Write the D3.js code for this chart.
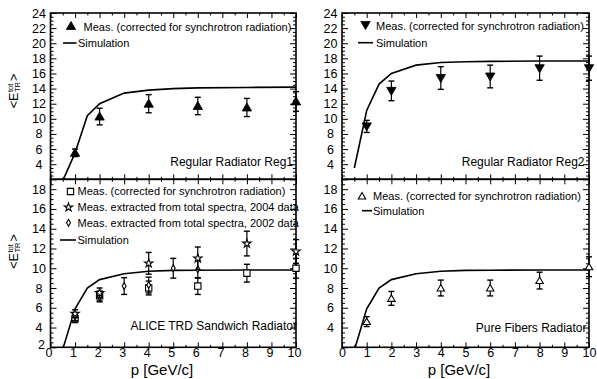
<!DOCTYPE html>
<html>
<head>
<meta charset="utf-8">
<script src="https://cdn.jsdelivr.net/npm/d3@7"></script>
<style>
  body { margin: 0; background: #fff; }
  text { font-family: "Liberation Sans", Arial, Helvetica, sans-serif; fill: #000; }
</style>
</head>
<body>
<svg id="chart"></svg>
<script>
// measured points (p in GeV/c)
const pMeas = [1, 2, 4, 6, 8, 10];
const reg1Meas = [5.5, 10.3, 12.0, 11.7, 11.5, 12.3];
const reg1Err = [0.5, 1.1, 1.2, 1.15, 1.2, 1.3];
const reg2Meas = [9.0, 13.7, 15.4, 15.6, 16.7, 16.7];
const reg2Err = [0.8, 1.3, 1.5, 1.5, 1.6, 1.6];
const sandCorr = [4.9, 7.2, 8.0, 8.2, 9.5, 10.0];
const sandCorrErr = [0.4, 0.5, 0.7, 0.85, 0.9, 1.0];
const sand2004 = [5.4, 7.5, 10.5, 11.0, 12.5, 11.7];
const sand2004Err = [0.4, 0.5, 1.1, 1.15, 1.25, 1.2];
const p2002 = [1, 2, 3, 4, 5, 6];
const sand2002 = [5.1, 7.1, 8.2, 8.3, 10.0, 9.9];
const sand2002Err = [0.4, 0.5, 0.85, 0.8, 1.0, 0.9];
const fibMeas = [4.6, 6.95, 8.0, 8.0, 8.75, 10.15];
const fibErr = [0.5, 0.7, 0.8, 0.8, 0.85, 1.0];

// simulation curves
const pSim = [0.5, 1, 1.5, 2, 3, 4, 5, 6, 8, 10];
const reg1Sim = [1.8, 5.5, 10.4, 12.0, 13.4, 13.8, 14.0, 14.1, 14.15, 14.2];
const reg2Sim = [3.5, 11.1, 14.6, 16.0, 17.1, 17.45, 17.55, 17.6, 17.65, 17.65];
const sandSim = [1.8, 5.9, 8.0, 8.85, 9.45, 9.7, 9.78, 9.8, 9.82, 9.82];
const fibSim = [1.7, 5.9, 8.0, 8.85, 9.45, 9.7, 9.78, 9.8, 9.82, 9.82];

// ticks
const xTicks = d3.range(0, 11, 1);
const xMinor = d3.range(0.5, 10, 1);
const topYTicks = d3.range(4, 25, 2);
const bottomYTicks = d3.range(4, 19, 2);

const measText = 'Meas. (corrected for synchrotron radiation)';

let width = 597;
let height = 379;

let svg = d3.select('#chart')
  .attr('width', width)
  .attr('height', height);

function series(ps, vs, es, marker) {
  return ps.map((p, i) => ({p: p, v: vs[i], e: es[i], marker: marker}));
}

let panels = [
  {
    x0: 50.5, x1: 296, y0: 13, y1: 179.3, yMax: 24, yTicks: topYTicks, xLabels: false,
    sim: reg1Sim,
    data: [series(pMeas, reg1Meas, reg1Err, 'triUp')],
    legend: [
      {marker: 'triUp', mx: 71, my: 26, text: measText, tx: 83.5, ty: 30.5},
      {marker: 'line', lx0: 63, lx1: 76.5, my: 43, text: 'Simulation', tx: 78, ty: 46.8}
    ],
    label: 'Regular Radiator Reg1', lx: 293, ly: 165.5
  },
  {
    x0: 342, x1: 589, y0: 13, y1: 179.3, yMax: 24, yTicks: topYTicks, xLabels: false,
    sim: reg2Sim,
    data: [series(pMeas, reg2Meas, reg2Err, 'triDown')],
    legend: [
      {marker: 'triDown', mx: 365.5, my: 25, text: measText, tx: 376, ty: 30},
      {marker: 'line', lx0: 358, lx1: 373, my: 42.7, text: 'Simulation', tx: 376, ty: 46.5}
    ],
    label: 'Regular Radiator Reg2', lx: 584.5, ly: 165.5
  },
  {
    x0: 50.5, x1: 296, y0: 179.3, y1: 347.3, yMax: 19, yTicks: bottomYTicks, xLabels: true, twoLabel: true,
    sim: sandSim,
    data: [
      series(pMeas, sandCorr, sandCorrErr, 'square'),
      series(p2002, sand2002, sand2002Err, 'diamond'),
      series(pMeas, sand2004, sand2004Err, 'star')
    ],
    legend: [
      {marker: 'square', mx: 70.5, my: 191.5, text: measText, tx: 77.5, ty: 195.3},
      {marker: 'star', mx: 68.5, my: 207.3, text: 'Meas. extracted from total spectra, 2004 data', tx: 77.5, ty: 211},
      {marker: 'diamond', mx: 68.5, my: 222.7, text: 'Meas. extracted from total spectra, 2002 data', tx: 77.5, ty: 226.5},
      {marker: 'line', lx0: 60, lx1: 76, my: 240, text: 'Simulation', tx: 77.5, ty: 244}
    ],
    label: 'ALICE TRD Sandwich Radiator', lx: 297, ly: 330
  },
  {
    x0: 342, x1: 589, y0: 179.3, y1: 347.3, yMax: 19, yTicks: bottomYTicks, xLabels: true,
    sim: fibSim,
    data: [series(pMeas, fibMeas, fibErr, 'triOpen')],
    legend: [
      {marker: 'triOpen', mx: 362, my: 196, text: measText, tx: 373, ty: 200},
      {marker: 'line', lx0: 362, lx1: 372, my: 210.7, text: 'Simulation', tx: 373, ty: 214.5}
    ],
    label: 'Pure Fibers Radiator', lx: 586.5, ly: 332
  }
];

// symbol paths
function markerPath(type) {
  if (type == 'triUp' || type == 'triDown') {
    return d3.symbol().type(d3.symbolTriangle).size(38)();
  } else if (type == 'triOpen') {
    return d3.symbol().type(d3.symbolTriangle).size(24)();
  } else if (type == 'square') {
    return d3.symbol().type(d3.symbolSquare).size(40)();
  } else if (type == 'star') {
    return d3.symbol().type(d3.symbolStar).size(22)();
  } else {
    return d3.symbol().type(d3.symbolDiamond).size(13)();
  }
}

function drawMarker(g, type, x, y) {
  let filled = (type == 'triUp' || type == 'triDown');
  let rot = type == 'triDown' ? ' rotate(180)' : '';
  let dy = (type == 'triUp' || type == 'triOpen') ? 0.8 : (type == 'triDown' ? -0.8 : 0);
  g.append('path')
    .attr('d', markerPath(type))
    .attr('transform', `translate(${x},${y + dy})${rot}`)
    .attr('fill', filled ? '#000' : '#fff')
    .attr('stroke', '#000')
    .attr('stroke-width', filled ? 0.8 : 1.1);
}

panels.forEach((pn, idx) => {
  let x = d3.scaleLinear().domain([0, 10]).range([pn.x0, pn.x1]);
  let y = d3.scaleLinear().domain([2, pn.yMax]).range([pn.y1, pn.y0]);

  let g = svg.append('g');

  svg.append('clipPath')
    .attr('id', 'clip' + idx)
    .append('rect')
    .attr('x', pn.x0).attr('y', pn.y0)
    .attr('width', pn.x1 - pn.x0).attr('height', pn.y1 - pn.y0);

  // ticks on all four sides, pointing inward
  let yMinor = d3.range(2.5, pn.yMax, 0.5).filter((v) => v % 2 != 0);
  let yMajor = d3.range(2, pn.yMax + 0.01, 2);

  let axes = [
    {ax: d3.axisBottom(x).tickValues(xTicks).tickSize(-5), t: `translate(0,${pn.y1})`, labels: pn.xLabels},
    {ax: d3.axisBottom(x).tickValues(xMinor).tickSize(-2.5), t: `translate(0,${pn.y1})`},
    {ax: d3.axisTop(x).tickValues(xTicks).tickSize(-5), t: `translate(0,${pn.y0})`},
    {ax: d3.axisTop(x).tickValues(xMinor).tickSize(-2.5), t: `translate(0,${pn.y0})`},
    {ax: d3.axisLeft(y).tickValues(yMajor).tickSize(-6), t: `translate(${pn.x0},0)`, ylabels: true},
    {ax: d3.axisLeft(y).tickValues(yMinor).tickSize(-3), t: `translate(${pn.x0},0)`},
    {ax: d3.axisRight(y).tickValues(yMajor).tickSize(-6), t: `translate(${pn.x1},0)`},
    {ax: d3.axisRight(y).tickValues(yMinor).tickSize(-3), t: `translate(${pn.x1},0)`}
  ];

  axes.forEach((a) => {
    let ag = g.append('g')
      .attr('transform', a.t)
      .call(a.ax.tickPadding(1));
    ag.select('.domain').remove();
    ag.selectAll('line').attr('stroke', '#000').attr('stroke-width', 1);
    ag.selectAll('text')
      .attr('font-size', 12.5)
      .attr('font-family', '"Liberation Sans", Arial, sans-serif')
      .attr('fill', '#000');
    if (a.ylabels) {
      ag.selectAll('text')
        .attr('text-anchor', 'middle')
        .attr('x', -11.5)
        .text((d) => {
          if (d == 2) return pn.twoLabel ? '2' : '';
          return pn.yTicks.indexOf(d) >= 0 ? d : '';
        })
        .filter((d) => d == 2)
        .attr('x', -9)
        .attr('y', -3);
    } else if (a.labels) {
      if (idx == 2) ag.selectAll('text').attr('dx', -2);
    } else {
      ag.selectAll('text').remove();
    }
  });

  // frame
  g.append('rect')
    .attr('x', pn.x0).attr('y', pn.y0)
    .attr('width', pn.x1 - pn.x0).attr('height', pn.y1 - pn.y0)
    .attr('fill', 'none')
    .attr('stroke', '#000')
    .attr('stroke-width', 1.6);

  // simulation line, clipped to the frame
  let line = d3.line()
    .x((d, i) => x(pSim[i]))
    .y((d) => y(d));

  g.append('path')
    .datum(pn.sim)
    .attr('clip-path', `url(#clip${idx})`)
    .attr('d', line)
    .attr('fill', 'none')
    .attr('stroke', '#000')
    .attr('stroke-width', 1.6);

  // error bars and markers (not clipped, points at p=10 sit on the frame)
  let plot = g.append('g');
  pn.data.forEach((s) => {
    s.forEach((d) => {
      let cx = x(d.p);
      plot.append('line')
        .attr('x1', cx).attr('x2', cx)
        .attr('y1', y(d.v - d.e)).attr('y2', y(d.v + d.e))
        .attr('stroke', '#000').attr('stroke-width', 1.2);
      [d.v - d.e, d.v + d.e].forEach((v) => {
        plot.append('line')
          .attr('x1', cx - 3).attr('x2', cx + 3)
          .attr('y1', y(v)).attr('y2', y(v))
          .attr('stroke', '#000').attr('stroke-width', 1.4);
      });
    });
    s.forEach((d) => drawMarker(plot, d.marker, x(d.p), y(d.v)));
  });

  // legend
  pn.legend.forEach((l) => {
    if (l.marker == 'line') {
      g.append('line')
        .attr('x1', l.lx0).attr('x2', l.lx1)
        .attr('y1', l.my).attr('y2', l.my)
        .attr('stroke', '#000').attr('stroke-width', 1.6);
    } else {
      drawMarker(g, l.marker, l.mx, l.my);
    }
    g.append('text')
      .attr('x', l.tx).attr('y', l.ty)
      .attr('font-size', 11)
      .text(l.text);
  });

  g.append('text')
    .attr('x', pn.lx).attr('y', pn.ly)
    .attr('text-anchor', 'end')
    .attr('font-size', 12)
    .text(pn.label);

  if (pn.xLabels) {
    g.append('text')
      .attr('x', idx == 2 ? 162 : 459)
      .attr('y', 375)
      .attr('text-anchor', 'middle')
      .attr('font-size', 15)
      .text('p [GeV/c]');
  }
});

// y axis titles <E_TR^tot>
function yTitle(cy) {
  let g = svg.append('g').attr('transform', `translate(18,${cy}) rotate(-90)`);
  let t1 = g.append('text').attr('font-size', 12.5).text('<E');
  let w1 = t1.node().getComputedTextLength();
  let sup = g.append('text').attr('x', w1 + 0.5).attr('y', -5).attr('font-size', 7.5).text('tot');
  let sub = g.append('text').attr('x', w1 + 0.5).attr('y', 2.2).attr('font-size', 7.5).text('TR');
  let w2 = Math.max(sup.node().getComputedTextLength(), sub.node().getComputedTextLength());
  let t3 = g.append('text').attr('x', w1 + w2 + 1.5).attr('font-size', 12.5).text('>');
  let total = w1 + w2 + 1.5 + t3.node().getComputedTextLength();
  g.attr('transform', `translate(18,${cy + total / 2}) rotate(-90)`);
}

yTitle(91);
yTitle(251.5);
</script>
</body>
</html>
